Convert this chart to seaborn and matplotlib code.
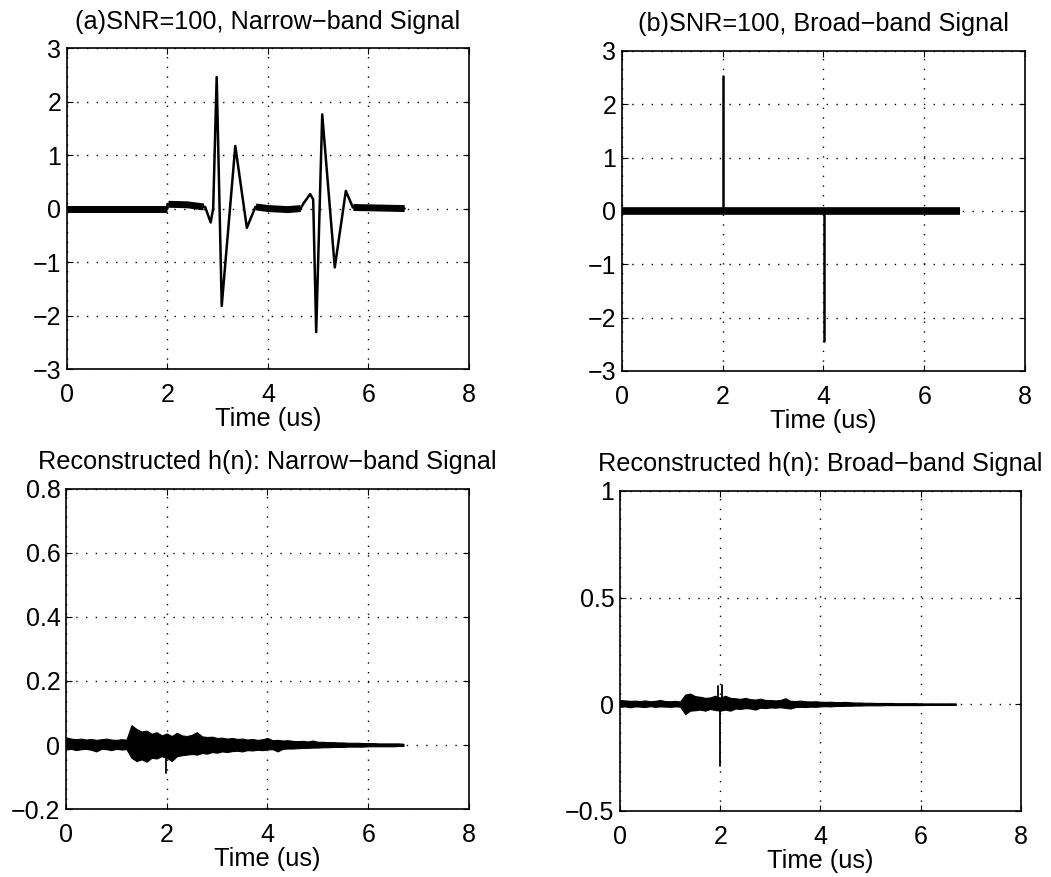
import numpy as np
import pandas as pd
import matplotlib
matplotlib.use("Agg")
import matplotlib.pyplot as plt
import seaborn as sns

sns.set_theme(style="white")
plt.rcParams['font.family'] = ['Liberation Sans', 'DejaVu Sans']
plt.rcParams['axes.unicode_minus'] = True

# ---------------- data ----------------
titles = ["(a)SNR=100, Narrow\u2212band Signal",
          "(b)SNR=100, Broad\u2212band Signal",
          "Reconstructed h(n): Narrow\u2212band Signal",
          "Reconstructed h(n): Broad\u2212band Signal"]
xlabel = "Time (us)"
x_ticks = [0, 2, 4, 6, 8]
x_ticklabels = ["0", "2", "4", "6", "8"]

a_yticks = [-3, -2, -1, 0, 1, 2, 3]
a_yticklabels = ["\u22123", "\u22122", "\u22121", "0", "1", "2", "3"]
b_yticks = a_yticks
b_yticklabels = a_yticklabels
c_yticks = [-0.2, 0, 0.2, 0.4, 0.6, 0.8]
c_yticklabels = ["\u22120.2", "0", "0.2", "0.4", "0.6", "0.8"]
d_yticks = [-0.5, 0, 0.5, 1]
d_yticklabels = ["\u22120.5", "0", "0.5", "1"]

# (a) narrow-band received signal: key points of the trace
a_wave_t = [0.0, 2.0, 2.0, 2.4, 2.75, 2.86, 2.91, 2.98, 3.08, 3.35, 3.58, 3.75,
            4.0, 4.4, 4.65, 4.71, 4.84, 4.90, 4.96, 5.08, 5.33, 5.55, 5.69, 6.72]
a_wave_y = [0.0, 0.0, 0.08, 0.07, 0.03, -0.26, 0.0, 2.46, -1.82, 1.17, -0.36, 0.03,
            0.0, -0.02, 0.0, 0.10, 0.27, 0.17, -2.31, 1.76, -1.10, 0.33, 0.02, 0.0]
# (a) noisy flat stretches (drawn thicker)
a_band_seg = [0, 0, 1, 1, 1, 2, 2, 2, 2, 3, 3]
a_band_t = [0.0, 2.0, 2.02, 2.4, 2.72, 3.76, 4.0, 4.4, 4.65, 5.70, 6.72]
a_band_y = [0.0, 0.0, 0.08, 0.07, 0.03, 0.03, 0.0, -0.02, 0.0, 0.02, 0.0]

# (b) broad-band received signal
b_band_t = [0.0, 6.71]
b_band_y = [0.0, 0.0]
b_spike_t = [2.01, 4.01]
b_spike_y = [2.52, -2.43]

# reconstructed h(n): noise envelope sampled every 0.1 us
env_t = [0.0, 0.1, 0.2, 0.3, 0.4, 0.5, 0.6, 0.7, 0.8, 0.9,
         1.0, 1.1, 1.2, 1.3, 1.4, 1.5, 1.6, 1.7, 1.8, 1.9,
         2.0, 2.1, 2.2, 2.3, 2.4, 2.5, 2.6, 2.7, 2.8, 2.9,
         3.0, 3.1, 3.2, 3.3, 3.4, 3.5, 3.6, 3.7, 3.8, 3.9,
         4.0, 4.1, 4.2, 4.3, 4.4, 4.5, 4.6, 4.7, 4.8, 4.9,
         5.0, 5.1, 5.2, 5.3, 5.4, 5.5, 5.6, 5.7, 5.8, 5.9,
         6.0, 6.1, 6.2, 6.3, 6.4, 6.5, 6.6, 6.7]
c_hi = [0.024, 0.020, 0.018, 0.020, 0.017, 0.019, 0.016, 0.018, 0.020, 0.017,
        0.016, 0.018, 0.017, 0.062, 0.050, 0.042, 0.045, 0.035, 0.040, 0.030,
        0.036, 0.028, 0.038, 0.030, 0.028, 0.032, 0.040, 0.027, 0.025, 0.026,
        0.022, 0.023, 0.020, 0.022, 0.019, 0.020, 0.017, 0.019, 0.016, 0.018,
        0.022, 0.015, 0.016, 0.014, 0.015, 0.013, 0.012, 0.013, 0.011, 0.014,
        0.010, 0.010, 0.009, 0.009, 0.008, 0.008, 0.007, 0.007, 0.007, 0.006,
        0.006, 0.006, 0.005, 0.005, 0.005, 0.005, 0.005, 0.004]
c_lo = [-0.014, -0.012, -0.016, -0.013, -0.012, -0.015, -0.020, -0.012, -0.013, -0.016,
        -0.012, -0.014, -0.013, -0.040, -0.050, -0.045, -0.052, -0.040, -0.042, -0.035,
        -0.040, -0.050, -0.035, -0.032, -0.030, -0.028, -0.030, -0.025, -0.027, -0.022,
        -0.024, -0.020, -0.022, -0.019, -0.018, -0.020, -0.016, -0.017, -0.015, -0.016,
        -0.014, -0.013, -0.020, -0.012, -0.011, -0.011, -0.010, -0.009, -0.009, -0.008,
        -0.008, -0.007, -0.007, -0.006, -0.006, -0.006, -0.005, -0.005, -0.005, -0.005,
        -0.004, -0.004, -0.004, -0.004, -0.004, -0.004, -0.003, -0.003]
c_spike_t = [1.99]
c_spike_lo = [-0.088]
c_spike_hi = [0.02]

d_hi = [0.020, 0.018, 0.016, 0.017, 0.015, 0.018, 0.014, 0.016, 0.020, 0.015,
        0.014, 0.016, 0.013, 0.045, 0.050, 0.038, 0.035, 0.030, 0.032, 0.040,
        0.030, 0.040, 0.030, 0.028, 0.025, 0.030, 0.024, 0.022, 0.026, 0.020,
        0.020, 0.018, 0.020, 0.028, 0.016, 0.015, 0.017, 0.014, 0.013, 0.014,
        0.012, 0.011, 0.012, 0.010, 0.010, 0.011, 0.009, 0.008, 0.008, 0.007,
        0.007, 0.006, 0.006, 0.006, 0.006, 0.005, 0.005, 0.005, 0.005, 0.005,
        0.004, 0.004, 0.004, 0.004, 0.004, 0.004, 0.004, 0.004]
d_lo = [-0.012, -0.010, -0.014, -0.010, -0.011, -0.013, -0.009, -0.012, -0.010, -0.011,
        -0.012, -0.010, -0.011, -0.046, -0.030, -0.028, -0.025, -0.030, -0.022, -0.027,
        -0.030, -0.025, -0.030, -0.020, -0.022, -0.018, -0.020, -0.025, -0.016, -0.018,
        -0.015, -0.016, -0.014, -0.017, -0.020, -0.013, -0.012, -0.013, -0.011, -0.012,
        -0.010, -0.009, -0.010, -0.008, -0.008, -0.007, -0.007, -0.006, -0.006, -0.005,
        -0.005, -0.005, -0.005, -0.004, -0.004, -0.004, -0.004, -0.004, -0.004, -0.004,
        -0.004, -0.003, -0.003, -0.003, -0.003, -0.003, -0.003, -0.003]
d_spike_t = [1.96, 1.99, 2.03]
d_spike_lo = [0.0, -0.29, 0.0]
d_spike_hi = [0.085, 0.03, 0.09]

# ---------------- figure ----------------
fig = plt.figure(figsize=(10.51, 8.77), dpi=100)
ax_a = fig.add_axes([0.0637, 0.5792, 0.3825, 0.3660])
ax_b = fig.add_axes([0.5918, 0.5770, 0.3834, 0.3650])
ax_c = fig.add_axes([0.0628, 0.0775, 0.3834, 0.3650])
ax_d = fig.add_axes([0.5899, 0.0753, 0.3815, 0.3650])

FS = 18

def style(ax, title, yticks, yticklabels, ylim):
    ax.set_xlim(0, 8)
    ax.set_ylim(*ylim)
    ax.set_xticks(x_ticks)
    ax.set_xticklabels(x_ticklabels)
    ax.set_yticks(yticks)
    ax.set_yticklabels(yticklabels)
    ax.set_axisbelow(True)
    ax.grid(True, color="black", linestyle=(0, (1, 6)), linewidth=1.0)
    for s in ax.spines.values():
        s.set_color("black")
        s.set_linewidth(1.2)
        s.set_visible(True)
    ax.tick_params(direction="in", length=4, width=0.8, colors="black",
                   labelsize=FS, top=True, right=True, bottom=True, left=True)
    ax.tick_params(axis="x", pad=10)
    ax.tick_params(axis="y", pad=4)
    ax.set_title(title, fontsize=18.2, pad=14, color="black")
    ax.set_xlabel(xlabel, fontsize=18.3, labelpad=0, color="black")
    ax.set_ylabel("")
    if ax.get_legend() is not None:
        ax.get_legend().remove()

# (a)
sns.lineplot(x=a_wave_t, y=a_wave_y, sort=False, estimator=None,
             color="black", linewidth=1.8, ax=ax_a)
df_a = pd.DataFrame({"t": a_band_t, "y": a_band_y, "seg": a_band_seg})
sns.lineplot(data=df_a, x="t", y="y", units="seg", estimator=None, sort=False,
             color="black", linewidth=5, ax=ax_a, solid_capstyle="butt")
style(ax_a, titles[0], a_yticks, a_yticklabels, (-3, 3))

# (b)
sns.lineplot(x=b_band_t, y=b_band_y, sort=False, estimator=None,
             color="black", linewidth=5.5, ax=ax_b, solid_capstyle="butt")
df_b = pd.DataFrame({"t": [t for t in b_spike_t for _ in (0, 1)],
                     "y": [v for y in b_spike_y for v in (0.0, y)],
                     "seg": [i for i in range(len(b_spike_t)) for _ in (0, 1)]})
sns.lineplot(data=df_b, x="t", y="y", units="seg", estimator=None, sort=False,
             color="black", linewidth=1.8, ax=ax_b)
style(ax_b, titles[1], b_yticks, b_yticklabels, (-3, 3))

# (c)
ax_c.fill_between(env_t, c_lo, c_hi, color="black", linewidth=0.8)
df_c = pd.DataFrame({"t": [t for t in c_spike_t for _ in (0, 1)],
                     "y": [v for lo, hi in zip(c_spike_lo, c_spike_hi) for v in (lo, hi)],
                     "seg": [i for i in range(len(c_spike_t)) for _ in (0, 1)]})
sns.lineplot(data=df_c, x="t", y="y", units="seg", estimator=None, sort=False,
             color="black", linewidth=1.3, ax=ax_c)
style(ax_c, titles[2], c_yticks, c_yticklabels, (-0.2, 0.8))

# (d)
ax_d.fill_between(env_t, d_lo, d_hi, color="black", linewidth=0.8)
df_d = pd.DataFrame({"t": [t for t in d_spike_t for _ in (0, 1)],
                     "y": [v for lo, hi in zip(d_spike_lo, d_spike_hi) for v in (lo, hi)],
                     "seg": [i for i in range(len(d_spike_t)) for _ in (0, 1)]})
sns.lineplot(data=df_d, x="t", y="y", units="seg", estimator=None, sort=False,
             color="black", linewidth=1.3, ax=ax_d)
style(ax_d, titles[3], d_yticks, d_yticklabels, (-0.5, 1))

fig.savefig("out.png", dpi=100, facecolor="white")
